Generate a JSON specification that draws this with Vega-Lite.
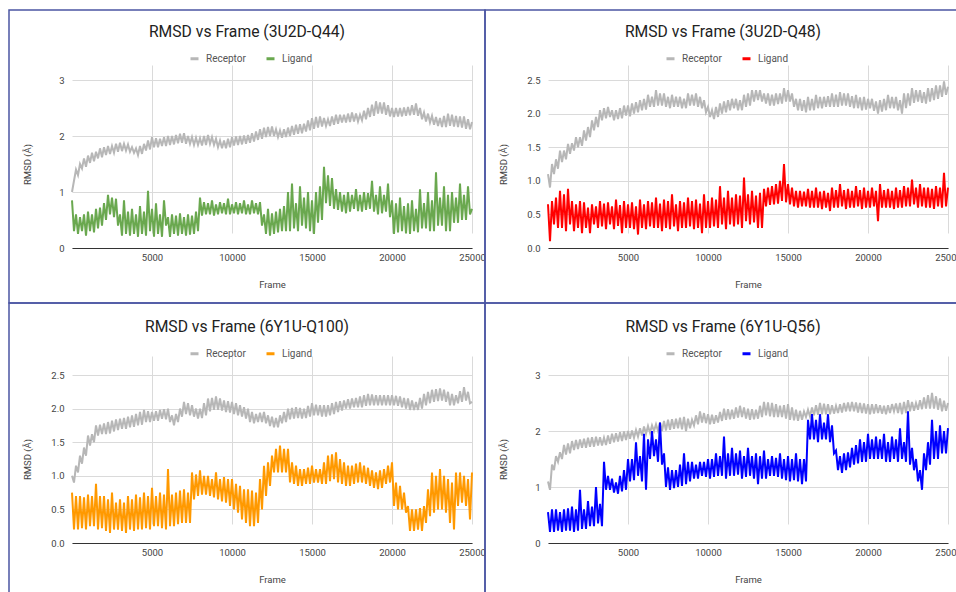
{
"$schema":"https://vega.github.io/schema/vega-lite/v6.json",
"background":"white",
"padding":{"left":8,"top":9,"right":0,"bottom":0},
"columns":2,
"spacing":0,
"bounds":"flush",
"resolve":{"scale":{"color":"independent"},"legend":{"color":"independent"}},
"datasets":{
"p1":[
{"f":0,"R":1.0,"L":0.85},{"f":125,"R":1.2,"L":0.3},{"f":250,"R":1.4,"L":0.6},{"f":375,"R":1.3,"L":0.25},{"f":500,"R":1.5,"L":0.55},{"f":625,"R":1.42,"L":0.3},{"f":750,"R":1.6,"L":0.6},{"f":875,"R":1.45,"L":0.22},
{"f":1000,"R":1.65,"L":0.65},{"f":1125,"R":1.52,"L":0.3},{"f":1250,"R":1.7,"L":0.6},{"f":1375,"R":1.55,"L":0.28},{"f":1500,"R":1.72,"L":0.7},{"f":1625,"R":1.6,"L":0.35},{"f":1750,"R":1.78,"L":0.72},{"f":1875,"R":1.62,"L":0.4},
{"f":2000,"R":1.8,"L":0.8},{"f":2125,"R":1.66,"L":0.5},{"f":2250,"R":1.82,"L":0.95},{"f":2375,"R":1.68,"L":0.6},{"f":2500,"R":1.82,"L":0.9},{"f":2625,"R":1.7,"L":0.55},{"f":2750,"R":1.86,"L":0.88},{"f":2875,"R":1.72,"L":0.4},
{"f":3000,"R":1.88,"L":0.6},{"f":3125,"R":1.73,"L":0.22},{"f":3250,"R":1.86,"L":0.85},{"f":3375,"R":1.74,"L":0.25},{"f":3500,"R":1.85,"L":0.65},{"f":3625,"R":1.72,"L":0.22},{"f":3750,"R":1.8,"L":0.7},{"f":3875,"R":1.7,"L":0.25},
{"f":4000,"R":1.78,"L":0.6},{"f":4125,"R":1.66,"L":0.2},{"f":4250,"R":1.82,"L":0.75},{"f":4375,"R":1.68,"L":0.25},{"f":4500,"R":1.86,"L":0.65},{"f":4625,"R":1.74,"L":0.22},{"f":4750,"R":1.92,"L":1.02},{"f":4875,"R":1.76,"L":0.3},
{"f":5000,"R":1.98,"L":0.7},{"f":5125,"R":1.8,"L":0.2},{"f":5250,"R":1.96,"L":0.8},{"f":5375,"R":1.8,"L":0.25},{"f":5500,"R":1.95,"L":0.6},{"f":5625,"R":1.82,"L":0.2},{"f":5750,"R":1.98,"L":0.85},{"f":5875,"R":1.82,"L":0.4},
{"f":6000,"R":2.0,"L":0.55},{"f":6125,"R":1.84,"L":0.2},{"f":6250,"R":2.0,"L":0.6},{"f":6375,"R":1.85,"L":0.25},{"f":6500,"R":2.02,"L":0.58},{"f":6625,"R":1.87,"L":0.22},{"f":6750,"R":2.04,"L":0.62},{"f":6875,"R":1.88,"L":0.25},
{"f":7000,"R":2.05,"L":0.55},{"f":7125,"R":1.86,"L":0.22},{"f":7250,"R":2.0,"L":0.6},{"f":7375,"R":1.86,"L":0.24},{"f":7500,"R":1.98,"L":0.58},{"f":7625,"R":1.84,"L":0.25},{"f":7750,"R":1.97,"L":0.65},{"f":7875,"R":1.84,"L":0.3},
{"f":8000,"R":1.96,"L":0.9},{"f":8125,"R":1.83,"L":0.58},{"f":8250,"R":2.0,"L":0.82},{"f":8375,"R":1.84,"L":0.6},{"f":8500,"R":2.02,"L":0.8},{"f":8625,"R":1.86,"L":0.6},{"f":8750,"R":1.98,"L":0.85},{"f":8875,"R":1.84,"L":0.58},
{"f":9000,"R":1.95,"L":0.78},{"f":9125,"R":1.8,"L":0.6},{"f":9250,"R":1.92,"L":0.82},{"f":9375,"R":1.78,"L":0.62},{"f":9500,"R":1.92,"L":0.8},{"f":9625,"R":1.78,"L":0.6},{"f":9750,"R":1.95,"L":0.88},{"f":9875,"R":1.8,"L":0.6},
{"f":10000,"R":1.98,"L":0.78},{"f":10125,"R":1.83,"L":0.62},{"f":10250,"R":1.99,"L":0.82},{"f":10375,"R":1.84,"L":0.6},{"f":10500,"R":2.0,"L":0.8},{"f":10625,"R":1.85,"L":0.62},{"f":10750,"R":2.01,"L":0.85},{"f":10875,"R":1.86,"L":0.6},
{"f":11000,"R":2.02,"L":0.78},{"f":11125,"R":1.88,"L":0.6},{"f":11250,"R":2.05,"L":0.85},{"f":11375,"R":1.9,"L":0.62},{"f":11500,"R":2.08,"L":0.8},{"f":11625,"R":1.93,"L":0.6},{"f":11750,"R":2.12,"L":0.82},{"f":11875,"R":1.95,"L":0.4},
{"f":12000,"R":2.15,"L":0.6},{"f":12125,"R":1.98,"L":0.25},{"f":12250,"R":2.16,"L":0.7},{"f":12375,"R":2.0,"L":0.22},{"f":12500,"R":2.17,"L":0.62},{"f":12625,"R":2.0,"L":0.25},{"f":12750,"R":2.12,"L":0.65},{"f":12875,"R":1.98,"L":0.28},
{"f":13000,"R":2.1,"L":0.7},{"f":13125,"R":1.97,"L":0.3},{"f":13250,"R":2.12,"L":0.75},{"f":13375,"R":1.98,"L":0.3},{"f":13500,"R":2.15,"L":1.0},{"f":13625,"R":2.0,"L":0.3},{"f":13750,"R":2.18,"L":1.15},{"f":13875,"R":2.02,"L":0.35},
{"f":14000,"R":2.2,"L":0.8},{"f":14125,"R":2.04,"L":0.3},{"f":14250,"R":2.21,"L":1.1},{"f":14375,"R":2.05,"L":0.4},{"f":14500,"R":2.22,"L":0.9},{"f":14625,"R":2.08,"L":0.35},{"f":14750,"R":2.28,"L":1.0},{"f":14875,"R":2.1,"L":0.3},
{"f":15000,"R":2.32,"L":0.85},{"f":15125,"R":2.13,"L":0.25},{"f":15250,"R":2.34,"L":1.0},{"f":15375,"R":2.15,"L":0.45},{"f":15500,"R":2.35,"L":1.1},{"f":15625,"R":2.17,"L":0.5},{"f":15750,"R":2.32,"L":1.45},{"f":15875,"R":2.18,"L":0.8},
{"f":16000,"R":2.3,"L":1.3},{"f":16125,"R":2.18,"L":0.75},{"f":16250,"R":2.35,"L":1.25},{"f":16375,"R":2.2,"L":0.7},{"f":16500,"R":2.38,"L":1.05},{"f":16625,"R":2.22,"L":0.68},{"f":16750,"R":2.38,"L":1.0},{"f":16875,"R":2.24,"L":0.65},
{"f":17000,"R":2.38,"L":0.95},{"f":17125,"R":2.24,"L":0.62},{"f":17250,"R":2.4,"L":1.0},{"f":17375,"R":2.25,"L":0.65},{"f":17500,"R":2.42,"L":0.95},{"f":17625,"R":2.26,"L":0.7},{"f":17750,"R":2.4,"L":1.05},{"f":17875,"R":2.26,"L":0.66},
{"f":18000,"R":2.38,"L":0.95},{"f":18125,"R":2.28,"L":0.65},{"f":18250,"R":2.45,"L":1.0},{"f":18375,"R":2.3,"L":0.68},{"f":18500,"R":2.5,"L":0.98},{"f":18625,"R":2.34,"L":0.7},{"f":18750,"R":2.56,"L":1.2},{"f":18875,"R":2.36,"L":0.65},
{"f":19000,"R":2.62,"L":0.95},{"f":19125,"R":2.4,"L":0.6},{"f":19250,"R":2.6,"L":1.1},{"f":19375,"R":2.4,"L":0.62},{"f":19500,"R":2.6,"L":0.95},{"f":19625,"R":2.38,"L":0.65},{"f":19750,"R":2.55,"L":1.15},{"f":19875,"R":2.35,"L":0.55},
{"f":20000,"R":2.5,"L":0.85},{"f":20125,"R":2.34,"L":0.25},{"f":20250,"R":2.5,"L":0.8},{"f":20375,"R":2.35,"L":0.28},{"f":20500,"R":2.5,"L":0.9},{"f":20625,"R":2.35,"L":0.3},{"f":20750,"R":2.51,"L":0.75},{"f":20875,"R":2.36,"L":0.26},
{"f":21000,"R":2.52,"L":0.8},{"f":21125,"R":2.37,"L":0.25},{"f":21250,"R":2.55,"L":0.85},{"f":21375,"R":2.38,"L":0.3},{"f":21500,"R":2.58,"L":0.7},{"f":21625,"R":2.36,"L":0.28},{"f":21750,"R":2.5,"L":1.05},{"f":21875,"R":2.3,"L":0.35},
{"f":22000,"R":2.42,"L":0.8},{"f":22125,"R":2.26,"L":0.35},{"f":22250,"R":2.4,"L":1.0},{"f":22375,"R":2.24,"L":0.3},{"f":22500,"R":2.36,"L":0.85},{"f":22625,"R":2.2,"L":0.3},{"f":22750,"R":2.34,"L":1.35},{"f":22875,"R":2.18,"L":0.4},
{"f":23000,"R":2.32,"L":0.9},{"f":23125,"R":2.16,"L":0.4},{"f":23250,"R":2.36,"L":1.1},{"f":23375,"R":2.16,"L":0.3},{"f":23500,"R":2.4,"L":0.95},{"f":23625,"R":2.18,"L":0.3},{"f":23750,"R":2.38,"L":1.0},{"f":23875,"R":2.17,"L":0.45},
{"f":24000,"R":2.36,"L":0.9},{"f":24125,"R":2.16,"L":0.45},{"f":24250,"R":2.35,"L":1.15},{"f":24375,"R":2.15,"L":0.5},{"f":24500,"R":2.35,"L":0.95},{"f":24625,"R":2.13,"L":0.5},{"f":24750,"R":2.3,"L":1.1},{"f":24875,"R":2.12,"L":0.6},
{"f":25000,"R":2.25,"L":0.7}
],
"p2":[
{"f":0,"R":1.1,"L":0.65},{"f":125,"R":0.9,"L":0.1},{"f":250,"R":1.25,"L":0.7},{"f":375,"R":1.1,"L":0.35},{"f":500,"R":1.32,"L":0.75},{"f":625,"R":1.18,"L":0.3},{"f":750,"R":1.45,"L":0.85},{"f":875,"R":1.28,"L":0.3},
{"f":1000,"R":1.45,"L":0.8},{"f":1125,"R":1.32,"L":0.25},{"f":1250,"R":1.55,"L":0.88},{"f":1375,"R":1.4,"L":0.35},{"f":1500,"R":1.56,"L":0.7},{"f":1625,"R":1.45,"L":0.25},{"f":1750,"R":1.65,"L":0.65},{"f":1875,"R":1.5,"L":0.3},
{"f":2000,"R":1.65,"L":0.7},{"f":2125,"R":1.52,"L":0.22},{"f":2250,"R":1.75,"L":0.68},{"f":2375,"R":1.6,"L":0.3},{"f":2500,"R":1.8,"L":0.6},{"f":2625,"R":1.65,"L":0.22},{"f":2750,"R":1.9,"L":0.65},{"f":2875,"R":1.75,"L":0.35},
{"f":3000,"R":1.95,"L":0.62},{"f":3125,"R":1.8,"L":0.3},{"f":3250,"R":2.05,"L":0.7},{"f":3375,"R":1.9,"L":0.32},{"f":3500,"R":2.08,"L":0.66},{"f":3625,"R":1.93,"L":0.28},{"f":3750,"R":2.1,"L":0.68},{"f":3875,"R":1.95,"L":0.35},
{"f":4000,"R":2.05,"L":0.62},{"f":4125,"R":1.9,"L":0.28},{"f":4250,"R":2.05,"L":0.72},{"f":4375,"R":1.92,"L":0.33},{"f":4500,"R":2.08,"L":0.64},{"f":4625,"R":1.93,"L":0.22},{"f":4750,"R":2.12,"L":0.7},{"f":4875,"R":1.97,"L":0.3},
{"f":5000,"R":2.12,"L":0.65},{"f":5125,"R":1.96,"L":0.3},{"f":5250,"R":2.15,"L":0.68},{"f":5375,"R":2.0,"L":0.28},{"f":5500,"R":2.17,"L":0.62},{"f":5625,"R":2.02,"L":0.2},{"f":5750,"R":2.2,"L":0.72},{"f":5875,"R":2.05,"L":0.3},
{"f":6000,"R":2.22,"L":0.65},{"f":6125,"R":2.06,"L":0.28},{"f":6250,"R":2.28,"L":0.7},{"f":6375,"R":2.1,"L":0.32},{"f":6500,"R":2.25,"L":0.68},{"f":6625,"R":2.1,"L":0.3},{"f":6750,"R":2.35,"L":0.75},{"f":6875,"R":2.12,"L":0.3},
{"f":7000,"R":2.3,"L":0.66},{"f":7125,"R":2.12,"L":0.25},{"f":7250,"R":2.3,"L":0.72},{"f":7375,"R":2.1,"L":0.3},{"f":7500,"R":2.25,"L":0.7},{"f":7625,"R":2.08,"L":0.28},{"f":7750,"R":2.28,"L":0.8},{"f":7875,"R":2.1,"L":0.32},
{"f":8000,"R":2.25,"L":0.65},{"f":8125,"R":2.1,"L":0.25},{"f":8250,"R":2.25,"L":0.7},{"f":8375,"R":2.08,"L":0.3},{"f":8500,"R":2.22,"L":0.68},{"f":8625,"R":2.08,"L":0.3},{"f":8750,"R":2.3,"L":0.75},{"f":8875,"R":2.12,"L":0.32},
{"f":9000,"R":2.28,"L":0.7},{"f":9125,"R":2.12,"L":0.28},{"f":9250,"R":2.3,"L":0.72},{"f":9375,"R":2.1,"L":0.3},{"f":9500,"R":2.25,"L":0.66},{"f":9625,"R":2.08,"L":0.22},{"f":9750,"R":2.2,"L":0.8},{"f":9875,"R":2.02,"L":0.3},
{"f":10000,"R":2.1,"L":0.7},{"f":10125,"R":1.95,"L":0.3},{"f":10250,"R":2.05,"L":0.75},{"f":10375,"R":1.92,"L":0.32},{"f":10500,"R":2.1,"L":0.72},{"f":10625,"R":1.95,"L":0.3},{"f":10750,"R":2.15,"L":0.92},{"f":10875,"R":2.0,"L":0.35},
{"f":11000,"R":2.18,"L":0.75},{"f":11125,"R":2.02,"L":0.28},{"f":11250,"R":2.2,"L":0.85},{"f":11375,"R":2.05,"L":0.35},{"f":11500,"R":2.22,"L":0.75},{"f":11625,"R":2.08,"L":0.32},{"f":11750,"R":2.22,"L":0.8},{"f":11875,"R":2.05,"L":0.35},
{"f":12000,"R":2.2,"L":0.78},{"f":12125,"R":2.05,"L":0.3},{"f":12250,"R":2.28,"L":1.05},{"f":12375,"R":2.1,"L":0.4},{"f":12500,"R":2.3,"L":0.8},{"f":12625,"R":2.12,"L":0.35},{"f":12750,"R":2.35,"L":0.85},{"f":12875,"R":2.18,"L":0.38},
{"f":13000,"R":2.35,"L":0.78},{"f":13125,"R":2.2,"L":0.3},{"f":13250,"R":2.35,"L":0.82},{"f":13375,"R":2.18,"L":0.3},{"f":13500,"R":2.3,"L":0.88},{"f":13625,"R":2.15,"L":0.62},{"f":13750,"R":2.3,"L":0.9},{"f":13875,"R":2.12,"L":0.64},
{"f":14000,"R":2.28,"L":0.92},{"f":14125,"R":2.12,"L":0.65},{"f":14250,"R":2.3,"L":0.95},{"f":14375,"R":2.14,"L":0.66},{"f":14500,"R":2.3,"L":1.0},{"f":14625,"R":2.15,"L":0.7},{"f":14750,"R":2.38,"L":1.25},{"f":14875,"R":2.18,"L":0.68},
{"f":15000,"R":2.35,"L":0.95},{"f":15125,"R":2.18,"L":0.65},{"f":15250,"R":2.3,"L":0.9},{"f":15375,"R":2.1,"L":0.62},{"f":15500,"R":2.22,"L":0.85},{"f":15625,"R":2.05,"L":0.6},{"f":15750,"R":2.22,"L":0.85},{"f":15875,"R":2.04,"L":0.62},
{"f":16000,"R":2.2,"L":0.84},{"f":16125,"R":2.02,"L":0.62},{"f":16250,"R":2.25,"L":0.88},{"f":16375,"R":2.05,"L":0.6},{"f":16500,"R":2.22,"L":0.85},{"f":16625,"R":2.05,"L":0.6},{"f":16750,"R":2.28,"L":0.9},{"f":16875,"R":2.08,"L":0.6},
{"f":17000,"R":2.25,"L":0.84},{"f":17125,"R":2.08,"L":0.58},{"f":17250,"R":2.25,"L":0.85},{"f":17375,"R":2.1,"L":0.6},{"f":17500,"R":2.26,"L":0.82},{"f":17625,"R":2.1,"L":0.55},{"f":17750,"R":2.3,"L":0.9},{"f":17875,"R":2.1,"L":0.6},
{"f":18000,"R":2.28,"L":0.86},{"f":18125,"R":2.1,"L":0.6},{"f":18250,"R":2.32,"L":0.95},{"f":18375,"R":2.12,"L":0.62},{"f":18500,"R":2.3,"L":0.86},{"f":18625,"R":2.12,"L":0.58},{"f":18750,"R":2.3,"L":0.88},{"f":18875,"R":2.1,"L":0.6},
{"f":19000,"R":2.26,"L":0.85},{"f":19125,"R":2.08,"L":0.6},{"f":19250,"R":2.28,"L":0.92},{"f":19375,"R":2.08,"L":0.62},{"f":19500,"R":2.24,"L":0.86},{"f":19625,"R":2.05,"L":0.58},{"f":19750,"R":2.25,"L":0.9},{"f":19875,"R":2.06,"L":0.6},
{"f":20000,"R":2.22,"L":0.85},{"f":20125,"R":2.08,"L":0.6},{"f":20250,"R":2.22,"L":0.9},{"f":20375,"R":2.04,"L":0.62},{"f":20500,"R":2.18,"L":0.85},{"f":20625,"R":2.0,"L":0.4},{"f":20750,"R":2.2,"L":0.95},{"f":20875,"R":2.03,"L":0.6},
{"f":21000,"R":2.22,"L":0.86},{"f":21125,"R":2.05,"L":0.6},{"f":21250,"R":2.28,"L":0.88},{"f":21375,"R":2.08,"L":0.6},{"f":21500,"R":2.25,"L":0.85},{"f":21625,"R":2.08,"L":0.58},{"f":21750,"R":2.25,"L":0.9},{"f":21875,"R":2.05,"L":0.6},
{"f":22000,"R":2.2,"L":0.86},{"f":22125,"R":2.0,"L":0.6},{"f":22250,"R":2.3,"L":0.92},{"f":22375,"R":2.08,"L":0.62},{"f":22500,"R":2.3,"L":0.9},{"f":22625,"R":2.12,"L":0.62},{"f":22750,"R":2.38,"L":1.02},{"f":22875,"R":2.16,"L":0.65},
{"f":23000,"R":2.35,"L":0.9},{"f":23125,"R":2.18,"L":0.6},{"f":23250,"R":2.35,"L":0.95},{"f":23375,"R":2.16,"L":0.62},{"f":23500,"R":2.32,"L":0.9},{"f":23625,"R":2.15,"L":0.6},{"f":23750,"R":2.38,"L":0.9},{"f":23875,"R":2.18,"L":0.6},
{"f":24000,"R":2.38,"L":0.88},{"f":24125,"R":2.2,"L":0.58},{"f":24250,"R":2.42,"L":0.92},{"f":24375,"R":2.22,"L":0.62},{"f":24500,"R":2.42,"L":0.9},{"f":24625,"R":2.25,"L":0.6},{"f":24750,"R":2.48,"L":1.12},{"f":24875,"R":2.28,"L":0.62},
{"f":25000,"R":2.4,"L":0.9}
],
"p3":[
{"f":0,"R":1.0,"L":0.75},{"f":125,"R":0.9,"L":0.2},{"f":250,"R":1.15,"L":0.7},{"f":375,"R":1.05,"L":0.2},{"f":500,"R":1.3,"L":0.7},{"f":625,"R":1.18,"L":0.22},{"f":750,"R":1.42,"L":0.68},{"f":875,"R":1.3,"L":0.2},
{"f":1000,"R":1.6,"L":0.72},{"f":1125,"R":1.45,"L":0.25},{"f":1250,"R":1.62,"L":0.7},{"f":1375,"R":1.5,"L":0.25},{"f":1500,"R":1.75,"L":0.88},{"f":1625,"R":1.6,"L":0.2},{"f":1750,"R":1.76,"L":0.7},{"f":1875,"R":1.62,"L":0.22},
{"f":2000,"R":1.78,"L":0.7},{"f":2125,"R":1.62,"L":0.18},{"f":2250,"R":1.8,"L":0.65},{"f":2375,"R":1.63,"L":0.15},{"f":2500,"R":1.82,"L":0.75},{"f":2625,"R":1.66,"L":0.2},{"f":2750,"R":1.84,"L":0.6},{"f":2875,"R":1.68,"L":0.2},
{"f":3000,"R":1.85,"L":0.65},{"f":3125,"R":1.7,"L":0.18},{"f":3250,"R":1.86,"L":0.6},{"f":3375,"R":1.7,"L":0.15},{"f":3500,"R":1.88,"L":0.7},{"f":3625,"R":1.72,"L":0.2},{"f":3750,"R":1.9,"L":0.65},{"f":3875,"R":1.73,"L":0.18},
{"f":4000,"R":1.92,"L":0.72},{"f":4125,"R":1.75,"L":0.2},{"f":4250,"R":1.95,"L":0.68},{"f":4375,"R":1.76,"L":0.2},{"f":4500,"R":1.98,"L":0.75},{"f":4625,"R":1.8,"L":0.22},{"f":4750,"R":1.96,"L":0.7},{"f":4875,"R":1.8,"L":0.2},
{"f":5000,"R":1.95,"L":0.82},{"f":5125,"R":1.82,"L":0.25},{"f":5250,"R":1.96,"L":0.7},{"f":5375,"R":1.82,"L":0.25},{"f":5500,"R":1.98,"L":0.75},{"f":5625,"R":1.85,"L":0.22},{"f":5750,"R":1.99,"L":0.72},{"f":5875,"R":1.84,"L":0.2},
{"f":6000,"R":2.0,"L":1.1},{"f":6125,"R":1.8,"L":0.25},{"f":6250,"R":1.9,"L":0.72},{"f":6375,"R":1.75,"L":0.25},{"f":6500,"R":1.92,"L":0.75},{"f":6625,"R":1.8,"L":0.28},{"f":6750,"R":2.0,"L":0.78},{"f":6875,"R":1.88,"L":0.3},
{"f":7000,"R":2.1,"L":0.8},{"f":7125,"R":1.92,"L":0.3},{"f":7250,"R":2.08,"L":0.75},{"f":7375,"R":1.9,"L":0.3},{"f":7500,"R":2.05,"L":1.05},{"f":7625,"R":1.88,"L":0.65},{"f":7750,"R":2.0,"L":1.02},{"f":7875,"R":1.85,"L":0.7},
{"f":8000,"R":2.0,"L":1.08},{"f":8125,"R":1.86,"L":0.72},{"f":8250,"R":2.08,"L":1.0},{"f":8375,"R":1.9,"L":0.72},{"f":8500,"R":2.15,"L":1.0},{"f":8625,"R":1.96,"L":0.7},{"f":8750,"R":2.16,"L":0.95},{"f":8875,"R":1.98,"L":0.68},
{"f":9000,"R":2.18,"L":1.05},{"f":9125,"R":1.98,"L":0.65},{"f":9250,"R":2.15,"L":0.95},{"f":9375,"R":1.97,"L":0.62},{"f":9500,"R":2.12,"L":0.98},{"f":9625,"R":1.95,"L":0.6},{"f":9750,"R":2.11,"L":0.95},{"f":9875,"R":1.94,"L":0.55},
{"f":10000,"R":2.1,"L":0.95},{"f":10125,"R":1.92,"L":0.5},{"f":10250,"R":2.08,"L":0.88},{"f":10375,"R":1.9,"L":0.45},{"f":10500,"R":2.05,"L":0.85},{"f":10625,"R":1.88,"L":0.35},{"f":10750,"R":2.02,"L":0.8},{"f":10875,"R":1.85,"L":0.3},
{"f":11000,"R":2.0,"L":0.8},{"f":11125,"R":1.8,"L":0.25},{"f":11250,"R":1.95,"L":0.78},{"f":11375,"R":1.78,"L":0.25},{"f":11500,"R":1.92,"L":0.75},{"f":11625,"R":1.8,"L":0.3},{"f":11750,"R":1.94,"L":0.95},{"f":11875,"R":1.8,"L":0.5},
{"f":12000,"R":1.95,"L":1.15},{"f":12125,"R":1.78,"L":0.7},{"f":12250,"R":1.9,"L":1.2},{"f":12375,"R":1.74,"L":0.85},{"f":12500,"R":1.88,"L":1.3},{"f":12625,"R":1.72,"L":1.05},{"f":12750,"R":1.86,"L":1.4},{"f":12875,"R":1.72,"L":1.05},
{"f":13000,"R":1.9,"L":1.45},{"f":13125,"R":1.78,"L":1.05},{"f":13250,"R":1.95,"L":1.4},{"f":13375,"R":1.8,"L":1.05},{"f":13500,"R":2.0,"L":1.4},{"f":13625,"R":1.84,"L":0.9},{"f":13750,"R":2.01,"L":1.2},{"f":13875,"R":1.85,"L":0.88},
{"f":14000,"R":2.02,"L":1.15},{"f":14125,"R":1.86,"L":0.85},{"f":14250,"R":2.01,"L":1.1},{"f":14375,"R":1.85,"L":0.85},{"f":14500,"R":2.0,"L":1.1},{"f":14625,"R":1.86,"L":0.88},{"f":14750,"R":2.04,"L":1.12},{"f":14875,"R":1.88,"L":0.88},
{"f":15000,"R":2.08,"L":1.15},{"f":15125,"R":1.9,"L":0.9},{"f":15250,"R":2.06,"L":1.1},{"f":15375,"R":1.9,"L":0.9},{"f":15500,"R":2.05,"L":1.1},{"f":15625,"R":1.88,"L":0.88},{"f":15750,"R":2.05,"L":1.2},{"f":15875,"R":1.88,"L":0.88},
{"f":16000,"R":2.05,"L":1.3},{"f":16125,"R":1.9,"L":0.92},{"f":16250,"R":2.08,"L":1.32},{"f":16375,"R":1.92,"L":0.95},{"f":16500,"R":2.1,"L":1.35},{"f":16625,"R":1.95,"L":0.9},{"f":16750,"R":2.11,"L":1.25},{"f":16875,"R":1.97,"L":0.88},
{"f":17000,"R":2.12,"L":1.2},{"f":17125,"R":2.0,"L":0.85},{"f":17250,"R":2.14,"L":1.15},{"f":17375,"R":2.0,"L":0.85},{"f":17500,"R":2.15,"L":1.15},{"f":17625,"R":2.02,"L":0.88},{"f":17750,"R":2.16,"L":1.18},{"f":17875,"R":2.02,"L":0.9},
{"f":18000,"R":2.18,"L":1.2},{"f":18125,"R":2.02,"L":0.9},{"f":18250,"R":2.2,"L":1.15},{"f":18375,"R":2.04,"L":0.88},{"f":18500,"R":2.22,"L":1.12},{"f":18625,"R":2.05,"L":0.85},{"f":18750,"R":2.21,"L":1.08},{"f":18875,"R":2.05,"L":0.82},
{"f":19000,"R":2.2,"L":1.05},{"f":19125,"R":2.05,"L":0.8},{"f":19250,"R":2.2,"L":1.08},{"f":19375,"R":2.05,"L":0.82},{"f":19500,"R":2.2,"L":1.1},{"f":19625,"R":2.05,"L":0.88},{"f":19750,"R":2.2,"L":1.15},{"f":19875,"R":2.05,"L":0.9},
{"f":20000,"R":2.2,"L":1.2},{"f":20125,"R":2.05,"L":0.55},{"f":20250,"R":2.19,"L":0.9},{"f":20375,"R":2.04,"L":0.5},{"f":20500,"R":2.18,"L":0.85},{"f":20625,"R":2.02,"L":0.5},{"f":20750,"R":2.16,"L":0.75},{"f":20875,"R":2.0,"L":0.45},
{"f":21000,"R":2.15,"L":0.55},{"f":21125,"R":1.98,"L":0.18},{"f":21250,"R":2.12,"L":0.5},{"f":21375,"R":1.98,"L":0.18},{"f":21500,"R":2.1,"L":0.5},{"f":21625,"R":1.98,"L":0.2},{"f":21750,"R":2.16,"L":0.52},{"f":21875,"R":2.0,"L":0.18},
{"f":22000,"R":2.22,"L":0.55},{"f":22125,"R":2.05,"L":0.3},{"f":22250,"R":2.25,"L":0.8},{"f":22375,"R":2.08,"L":0.4},{"f":22500,"R":2.28,"L":1.05},{"f":22625,"R":2.1,"L":0.45},{"f":22750,"R":2.29,"L":1.0},{"f":22875,"R":2.11,"L":0.5},
{"f":23000,"R":2.3,"L":1.1},{"f":23125,"R":2.12,"L":0.5},{"f":23250,"R":2.28,"L":1.0},{"f":23375,"R":2.1,"L":0.45},{"f":23500,"R":2.25,"L":0.95},{"f":23625,"R":2.05,"L":0.3},{"f":23750,"R":2.22,"L":0.9},{"f":23875,"R":2.05,"L":0.2},
{"f":24000,"R":2.2,"L":1.05},{"f":24125,"R":2.08,"L":0.55},{"f":24250,"R":2.26,"L":1.05},{"f":24375,"R":2.1,"L":0.6},{"f":24500,"R":2.32,"L":1.0},{"f":24625,"R":2.12,"L":0.55},{"f":24750,"R":2.25,"L":0.95},{"f":24875,"R":2.08,"L":0.35},
{"f":25000,"R":2.1,"L":1.05}
],
"p4":[
{"f":0,"R":1.1,"L":0.55},{"f":125,"R":0.95,"L":0.2},{"f":250,"R":1.4,"L":0.6},{"f":375,"R":1.3,"L":0.2},{"f":500,"R":1.55,"L":0.6},{"f":625,"R":1.45,"L":0.22},{"f":750,"R":1.62,"L":0.55},{"f":875,"R":1.5,"L":0.2},
{"f":1000,"R":1.75,"L":0.6},{"f":1125,"R":1.58,"L":0.22},{"f":1250,"R":1.78,"L":0.62},{"f":1375,"R":1.6,"L":0.22},{"f":1500,"R":1.82,"L":0.65},{"f":1625,"R":1.66,"L":0.2},{"f":1750,"R":1.84,"L":0.6},{"f":1875,"R":1.68,"L":0.22},
{"f":2000,"R":1.85,"L":0.95},{"f":2125,"R":1.7,"L":0.25},{"f":2250,"R":1.86,"L":0.6},{"f":2375,"R":1.7,"L":0.25},{"f":2500,"R":1.88,"L":0.75},{"f":2625,"R":1.72,"L":0.3},{"f":2750,"R":1.89,"L":0.65},{"f":2875,"R":1.72,"L":0.3},
{"f":3000,"R":1.9,"L":1.0},{"f":3125,"R":1.74,"L":0.35},{"f":3250,"R":1.89,"L":0.7},{"f":3375,"R":1.74,"L":0.3},{"f":3500,"R":1.88,"L":1.45},{"f":3625,"R":1.75,"L":0.95},{"f":3750,"R":1.92,"L":1.2},{"f":3875,"R":1.77,"L":0.95},
{"f":4000,"R":1.95,"L":1.15},{"f":4125,"R":1.8,"L":0.9},{"f":4250,"R":1.96,"L":1.08},{"f":4375,"R":1.81,"L":0.88},{"f":4500,"R":1.98,"L":1.2},{"f":4625,"R":1.82,"L":0.92},{"f":4750,"R":1.99,"L":1.3},{"f":4875,"R":1.84,"L":0.95},
{"f":5000,"R":2.0,"L":1.5},{"f":5125,"R":1.86,"L":1.1},{"f":5250,"R":2.01,"L":1.5},{"f":5375,"R":1.88,"L":1.12},{"f":5500,"R":2.02,"L":1.8},{"f":5625,"R":1.9,"L":1.2},{"f":5750,"R":2.05,"L":1.55},{"f":5875,"R":1.92,"L":1.1},
{"f":6000,"R":2.08,"L":1.95},{"f":6125,"R":1.95,"L":0.95},{"f":6250,"R":2.09,"L":1.85},{"f":6375,"R":1.97,"L":1.5},{"f":6500,"R":2.1,"L":2.0},{"f":6625,"R":2.0,"L":1.55},{"f":6750,"R":2.12,"L":1.85},{"f":6875,"R":2.0,"L":1.45},
{"f":7000,"R":2.15,"L":2.15},{"f":7125,"R":2.0,"L":1.4},{"f":7250,"R":2.18,"L":1.6},{"f":7375,"R":2.01,"L":1.0},{"f":7500,"R":2.2,"L":1.35},{"f":7625,"R":2.02,"L":0.95},{"f":7750,"R":2.21,"L":1.3},{"f":7875,"R":2.04,"L":0.98},
{"f":8000,"R":2.22,"L":1.3},{"f":8125,"R":2.05,"L":1.0},{"f":8250,"R":2.24,"L":1.4},{"f":8375,"R":2.03,"L":1.02},{"f":8500,"R":2.25,"L":1.6},{"f":8625,"R":2.0,"L":1.05},{"f":8750,"R":2.22,"L":1.45},{"f":8875,"R":2.05,"L":1.1},
{"f":9000,"R":2.2,"L":1.45},{"f":9125,"R":2.1,"L":1.15},{"f":9250,"R":2.28,"L":1.4},{"f":9375,"R":2.12,"L":1.15},{"f":9500,"R":2.35,"L":1.45},{"f":9625,"R":2.15,"L":1.2},{"f":9750,"R":2.32,"L":1.45},{"f":9875,"R":2.14,"L":1.18},
{"f":10000,"R":2.3,"L":1.5},{"f":10125,"R":2.12,"L":1.15},{"f":10250,"R":2.29,"L":1.5},{"f":10375,"R":2.13,"L":1.18},{"f":10500,"R":2.28,"L":1.6},{"f":10625,"R":2.15,"L":1.2},{"f":10750,"R":2.34,"L":1.55},{"f":10875,"R":2.18,"L":1.2},
{"f":11000,"R":2.4,"L":1.9},{"f":11125,"R":2.2,"L":1.15},{"f":11250,"R":2.39,"L":1.6},{"f":11375,"R":2.21,"L":1.2},{"f":11500,"R":2.38,"L":1.7},{"f":11625,"R":2.22,"L":1.2},{"f":11750,"R":2.42,"L":1.6},{"f":11875,"R":2.24,"L":1.22},
{"f":12000,"R":2.45,"L":1.65},{"f":12125,"R":2.25,"L":1.15},{"f":12250,"R":2.42,"L":1.55},{"f":12375,"R":2.22,"L":1.18},{"f":12500,"R":2.4,"L":1.7},{"f":12625,"R":2.2,"L":1.2},{"f":12750,"R":2.39,"L":1.55},{"f":12875,"R":2.21,"L":1.15},
{"f":13000,"R":2.38,"L":1.6},{"f":13125,"R":2.22,"L":1.05},{"f":13250,"R":2.45,"L":1.55},{"f":13375,"R":2.25,"L":1.15},{"f":13500,"R":2.52,"L":1.65},{"f":13625,"R":2.28,"L":1.15},{"f":13750,"R":2.51,"L":1.5},{"f":13875,"R":2.26,"L":1.2},
{"f":14000,"R":2.5,"L":1.55},{"f":14125,"R":2.25,"L":1.2},{"f":14250,"R":2.48,"L":1.52},{"f":14375,"R":2.25,"L":1.18},{"f":14500,"R":2.45,"L":1.6},{"f":14625,"R":2.25,"L":1.15},{"f":14750,"R":2.46,"L":1.5},{"f":14875,"R":2.22,"L":1.12},
{"f":15000,"R":2.48,"L":1.55},{"f":15125,"R":2.2,"L":1.1},{"f":15250,"R":2.42,"L":1.5},{"f":15375,"R":2.19,"L":1.12},{"f":15500,"R":2.38,"L":1.6},{"f":15625,"R":2.18,"L":1.1},{"f":15750,"R":2.36,"L":1.5},{"f":15875,"R":2.2,"L":1.05},
{"f":16000,"R":2.35,"L":1.5},{"f":16125,"R":2.25,"L":1.1},{"f":16250,"R":2.38,"L":2.2},{"f":16375,"R":2.26,"L":1.85},{"f":16500,"R":2.42,"L":2.3},{"f":16625,"R":2.28,"L":1.85},{"f":16750,"R":2.46,"L":2.2},{"f":16875,"R":2.29,"L":1.8},
{"f":17000,"R":2.5,"L":2.3},{"f":17125,"R":2.3,"L":1.85},{"f":17250,"R":2.49,"L":2.15},{"f":17375,"R":2.3,"L":1.85},{"f":17500,"R":2.48,"L":2.3},{"f":17625,"R":2.3,"L":1.8},{"f":17750,"R":2.46,"L":2.1},{"f":17875,"R":2.31,"L":1.6},
{"f":18000,"R":2.45,"L":1.65},{"f":18125,"R":2.32,"L":1.3},{"f":18250,"R":2.48,"L":1.55},{"f":18375,"R":2.33,"L":1.25},{"f":18500,"R":2.5,"L":1.6},{"f":18625,"R":2.35,"L":1.3},{"f":18750,"R":2.51,"L":1.62},{"f":18875,"R":2.35,"L":1.35},
{"f":19000,"R":2.52,"L":1.7},{"f":19125,"R":2.35,"L":1.4},{"f":19250,"R":2.51,"L":1.75},{"f":19375,"R":2.33,"L":1.42},{"f":19500,"R":2.5,"L":1.85},{"f":19625,"R":2.32,"L":1.45},{"f":19750,"R":2.49,"L":1.8},{"f":19875,"R":2.31,"L":1.45},
{"f":20000,"R":2.48,"L":1.95},{"f":20125,"R":2.3,"L":1.5},{"f":20250,"R":2.48,"L":1.85},{"f":20375,"R":2.31,"L":1.5},{"f":20500,"R":2.48,"L":1.9},{"f":20625,"R":2.32,"L":1.5},{"f":20750,"R":2.46,"L":1.85},{"f":20875,"R":2.31,"L":1.5},
{"f":21000,"R":2.45,"L":1.95},{"f":21125,"R":2.3,"L":1.45},{"f":21250,"R":2.46,"L":1.8},{"f":21375,"R":2.32,"L":1.45},{"f":21500,"R":2.48,"L":1.9},{"f":21625,"R":2.35,"L":1.5},{"f":21750,"R":2.49,"L":1.85},{"f":21875,"R":2.32,"L":1.45},
{"f":22000,"R":2.5,"L":2.05},{"f":22125,"R":2.3,"L":1.5},{"f":22250,"R":2.52,"L":1.8},{"f":22375,"R":2.32,"L":1.45},{"f":22500,"R":2.55,"L":2.35},{"f":22625,"R":2.35,"L":1.4},{"f":22750,"R":2.52,"L":1.7},{"f":22875,"R":2.36,"L":1.3},
{"f":23000,"R":2.5,"L":1.5},{"f":23125,"R":2.38,"L":1.1},{"f":23250,"R":2.55,"L":1.3},{"f":23375,"R":2.39,"L":0.95},{"f":23500,"R":2.6,"L":1.6},{"f":23625,"R":2.4,"L":1.3},{"f":23750,"R":2.64,"L":1.8},{"f":23875,"R":2.4,"L":1.4},
{"f":24000,"R":2.68,"L":2.2},{"f":24125,"R":2.4,"L":1.5},{"f":24250,"R":2.62,"L":2.0},{"f":24375,"R":2.38,"L":1.5},{"f":24500,"R":2.58,"L":2.1},{"f":24625,"R":2.35,"L":1.6},{"f":24750,"R":2.54,"L":2.0},{"f":24875,"R":2.36,"L":1.6},
{"f":25000,"R":2.5,"L":2.05}
]
},
"concat":[
{"width":476,"height":293,"data":{"name":"p1"},
 "title":{"text":"RMSD vs Frame (3U2D-Q44)","offset":-31},
 "transform":[{"fold":["R","L"],"as":["series","rmsd"]}],
 "mark":{"type":"line","strokeWidth":2},
 "encoding":{
  "x":{"field":"f","type":"quantitative","scale":{"domain":[0,25000],"range":[63,463],"nice":false,"zero":false},"axis":{"values":[5000,10000,15000,20000,25000],"offset":-55,"title":"Frame"}},
  "y":{"field":"rmsd","type":"quantitative","scale":{"domain":[0,3],"range":[238,70],"nice":false},"axis":{"values":[0,1,2,3],"format":"d","offset":-63,"title":"RMSD (Å)"}},
  "color":{"field":"series","type":"nominal","scale":{"domain":["R","L"],"range":["#b7b7b7","#6aa84f"]},"legend":{"title":null,"legendX":180,"legendY":43,"labelExpr":"datum.label == 'R' ? 'Receptor' : 'Ligand'"}}
 }},
{"width":476,"height":293,"data":{"name":"p2"},
 "title":{"text":"RMSD vs Frame (3U2D-Q48)","offset":-31},
 "transform":[{"fold":["R","L"],"as":["series","rmsd"]}],
 "mark":{"type":"line","strokeWidth":2},
 "encoding":{
  "x":{"field":"f","type":"quantitative","scale":{"domain":[0,25000],"range":[63,463],"nice":false,"zero":false},"axis":{"values":[5000,10000,15000,20000,25000],"offset":-55,"title":"Frame"}},
  "y":{"field":"rmsd","type":"quantitative","scale":{"domain":[0,2.5],"range":[238,70],"nice":false},"axis":{"values":[0,0.5,1,1.5,2,2.5],"format":".1f","offset":-63,"title":"RMSD (Å)"}},
  "color":{"field":"series","type":"nominal","scale":{"domain":["R","L"],"range":["#b7b7b7","#ff0000"]},"legend":{"title":null,"legendX":180,"legendY":43,"labelExpr":"datum.label == 'R' ? 'Receptor' : 'Ligand'"}}
 }},
{"width":476,"height":293,"data":{"name":"p3"},
 "title":{"text":"RMSD vs Frame (6Y1U-Q100)","offset":-33},
 "transform":[{"fold":["R","L"],"as":["series","rmsd"]}],
 "mark":{"type":"line","strokeWidth":2},
 "encoding":{
  "x":{"field":"f","type":"quantitative","scale":{"domain":[0,25000],"range":[63,463],"nice":false,"zero":false},"axis":{"values":[5000,10000,15000,20000,25000],"offset":-53,"title":"Frame"}},
  "y":{"field":"rmsd","type":"quantitative","scale":{"domain":[0,2.5],"range":[240,72],"nice":false},"axis":{"values":[0,0.5,1,1.5,2,2.5],"format":".1f","offset":-63,"title":"RMSD (Å)"}},
  "color":{"field":"series","type":"nominal","scale":{"domain":["R","L"],"range":["#b7b7b7","#ff9900"]},"legend":{"title":null,"legendX":180,"legendY":45,"labelExpr":"datum.label == 'R' ? 'Receptor' : 'Ligand'"}}
 }},
{"width":476,"height":293,"data":{"name":"p4"},
 "title":{"text":"RMSD vs Frame (6Y1U-Q56)","offset":-33},
 "transform":[{"fold":["R","L"],"as":["series","rmsd"]}],
 "mark":{"type":"line","strokeWidth":2},
 "encoding":{
  "x":{"field":"f","type":"quantitative","scale":{"domain":[0,25000],"range":[63,463],"nice":false,"zero":false},"axis":{"values":[5000,10000,15000,20000,25000],"offset":-53,"title":"Frame"}},
  "y":{"field":"rmsd","type":"quantitative","scale":{"domain":[0,3],"range":[240,72],"nice":false},"axis":{"values":[0,1,2,3],"format":"d","offset":-63,"title":"RMSD (Å)"}},
  "color":{"field":"series","type":"nominal","scale":{"domain":["R","L"],"range":["#b7b7b7","#0000ff"]},"legend":{"title":null,"legendX":180,"legendY":45,"labelExpr":"datum.label == 'R' ? 'Receptor' : 'Ligand'"}}
 }}
],
"config":{
 "font":"Roboto",
 "view":{"stroke":"#4b56a3","strokeWidth":1.5},
 "title":{"anchor":"middle","frame":"group","fontSize":15.7,"fontWeight":"normal","color":"#222222","baseline":"alphabetic"},
 "axis":{"grid":true,"gridColor":"#dadada","ticks":false,"tickSize":0,"labelFontSize":9.5,"labelColor":"#444444","titleFontSize":9.5,"titleFontWeight":"normal","titleColor":"#444444","labelFlush":false},
 "axisX":{"domainColor":"#333333","format":"d","titleY":31,"labelPadding":4},
 "axisY":{"domain":false,"titleX":-40,"labelPadding":8},
 "legend":{"orient":"none","direction":"horizontal","symbolType":"stroke","symbolStrokeWidth":3,"symbolSize":64,"labelFontSize":10,"labelColor":"#555555","columnPadding":14,"labelOffset":6,"padding":0}
}
}
